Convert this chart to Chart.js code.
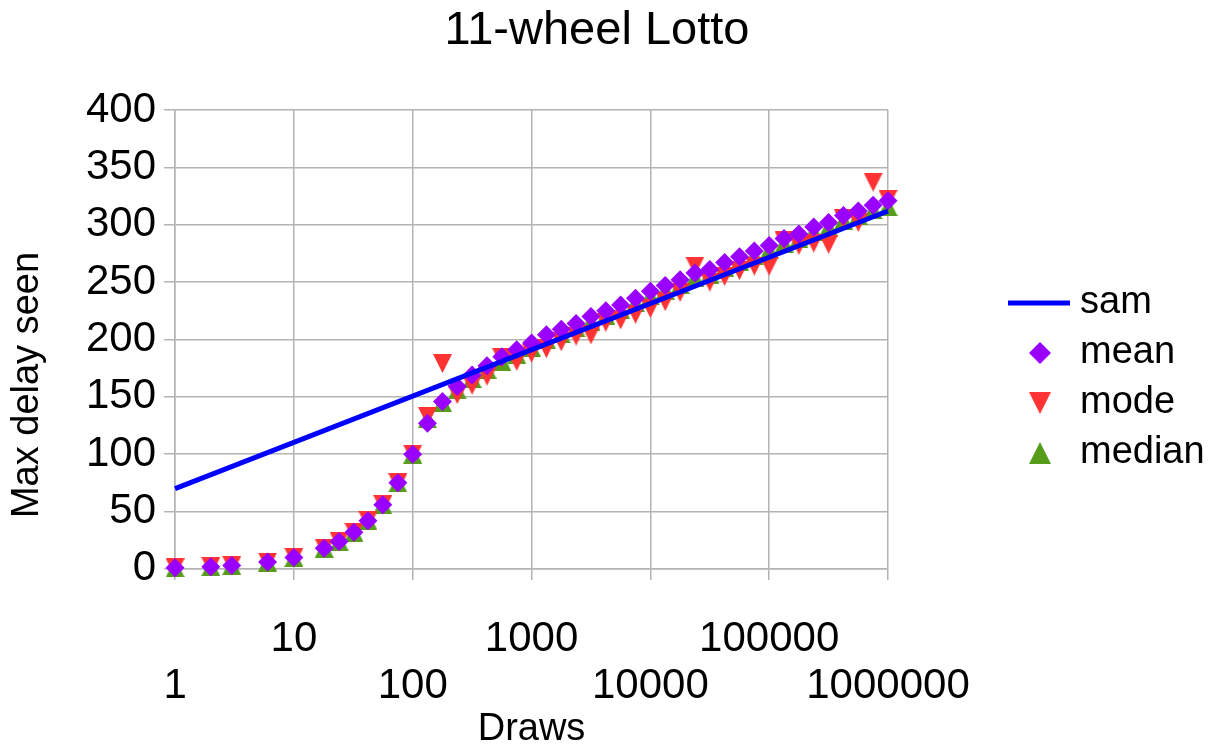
<!DOCTYPE html>
<html>
<head>
<meta charset="utf-8">
<script src="https://cdn.jsdelivr.net/npm/chart.js@4/dist/chart.umd.min.js"></script>
<style>
  html, body { margin: 0; padding: 0; background: #fff; }
  #wrap { width: 1217px; height: 747px; }
</style>
</head>
<body>
<div id="wrap"><canvas id="c"></canvas></div>
<script>
// values
const draws = [1, 2, 3, 6, 10, 18, 24, 32, 42, 56, 75, 100,
  133, 178, 237, 316, 422, 562, 750, 1000,
  1334, 1778, 2371, 3162, 4217, 5623, 7499, 10000,
  13335, 17783, 23714, 31623, 42170, 56234, 74989, 100000,
  133352, 177828, 237137, 316228, 421697, 562341, 749894, 1000000];
const meanVals = [1, 2, 3, 6, 10, 18, 24, 32, 42, 56, 75, 100,
  127, 146, 159, 169, 177, 185, 191, 197,
  204, 209, 214, 220, 225, 230, 236, 242,
  247, 252, 258, 261, 267, 272, 277, 282,
  288, 292, 298, 302, 308, 312, 317, 321];
const modeVals = [1, 2, 3, 6, 10, 18, 24, 32, 42, 56, 75, 100,
  133, 179, 152, 160, 168, 184, 181, 188,
  192, 198, 203, 204, 215, 217, 222, 227,
  233, 241, 264, 250, 255, 260, 264, 264,
  286, 282, 284, 283, 305, 302, 337, 322];
const medianVals = [1, 2, 3, 6, 10, 18, 24, 32, 42, 56, 75, 100,
  131, 145, 156, 166, 174, 181, 187, 193,
  200, 205, 210, 216, 221, 226, 232, 238,
  243, 248, 254, 257, 263, 268, 273, 278,
  284, 288, 294, 298, 304, 308, 313, 316];
const samDraws = [1, 1000000];
const samVals = [70, 312];
const xTickVals = [1, 10, 100, 1000, 10000, 100000, 1000000];

const FONT = '"Liberation Sans", Arial, sans-serif';
const C_SAM = '#0000ff', C_MEAN = '#9900ff', C_MODE = '#ff3333', C_MEDIAN = '#579d1c';
const GRID = '#b3b3b3';

const pts = (xs, ys) => xs.map((x, i) => ({ x, y: ys[i] }));

// triangle markers that fill their whole box, like the office chart does
function triangle(color, down, s) {
  const c = document.createElement('canvas');
  c.width = s; c.height = s;
  const g = c.getContext('2d');
  g.fillStyle = color;
  g.beginPath();
  if (down) { g.moveTo(0, 0); g.lineTo(s, 0); g.lineTo(s / 2, s); }
  else { g.moveTo(s / 2, 0); g.lineTo(s, s); g.lineTo(0, s); }
  g.closePath();
  g.fill();
  return c;
}
const triDown = triangle(C_MODE, true, 19), triUp = triangle(C_MEDIAN, false, 19);
const triDownL = triangle(C_MODE, true, 22), triUpL = triangle(C_MEDIAN, false, 22);

const legendItems = [
  { label: 'sam', line: true, color: C_SAM },
  { label: 'mean', style: 'rectRot', color: C_MEAN },
  { label: 'mode', img: triDownL },
  { label: 'median', img: triUpL },
];

// title, rotated y title and legend, drawn at the reference positions
const decor = {
  id: 'decor',
  afterDraw(chart) {
    const ctx = chart.ctx;
    ctx.save();
    ctx.fillStyle = '#000';
    ctx.textBaseline = 'middle';
    ctx.textAlign = 'center';
    ctx.font = '47px ' + FONT;
    ctx.fillText('11-wheel Lotto', 597, 31);

    ctx.save();
    ctx.translate(28, 385);
    ctx.rotate(-Math.PI / 2);
    ctx.font = '38px ' + FONT;
    ctx.fillText('Max delay seen', 0, 0);
    ctx.restore();

    ctx.font = '38px ' + FONT;
    ctx.textAlign = 'left';
    legendItems.forEach((it, i) => {
      const y = 303 + i * 50;
      if (it.line) {
        ctx.strokeStyle = it.color;
        ctx.lineWidth = 5;
        ctx.beginPath();
        ctx.moveTo(1008, y);
        ctx.lineTo(1070, y);
        ctx.stroke();
      } else if (it.img) {
        ctx.drawImage(it.img, 1040 - it.img.width / 2, y - it.img.height / 2);
      } else {
        ctx.fillStyle = it.color;
        ctx.strokeStyle = it.color;
        Chart.helpers.drawPoint(ctx, { pointStyle: it.style, rotation: 0, radius: 11, borderWidth: 0 }, 1040, y);
      }
      ctx.fillStyle = '#000';
      ctx.fillText(it.label, 1080, y);
    });
    ctx.restore();
  }
};

const markerSet = (label, vals, color, style, order) => ({
  label, data: pts(draws, vals), order, clip: false,
  pointStyle: style, pointRadius: 9.5,
  backgroundColor: color, borderColor: color, pointBorderWidth: 0,
});

new Chart(document.getElementById('c'), {
  type: 'scatter',
  data: {
    datasets: [
      { label: 'sam', data: pts(samDraws, samVals), showLine: true, pointRadius: 0,
        borderColor: C_SAM, borderWidth: 5, order: 0, clip: false },
      markerSet('mean', meanVals, C_MEAN, 'rectRot', 1),
      markerSet('mode', modeVals, C_MODE, triDown, 2),
      markerSet('median', medianVals, C_MEDIAN, triUp, 3),
    ]
  },
  options: {
    responsive: true, maintainAspectRatio: false, animation: false, events: [],
    layout: { padding: { top: 110, right: 329, left: 78, bottom: 0 } },
    plugins: { legend: { display: false }, title: { display: false }, tooltip: { enabled: false } },
    scales: {
      x: {
        type: 'logarithmic', min: 1, max: 1000000,
        afterBuildTicks: s => { s.ticks = xTickVals.map(v => ({ value: v })); },
        grid: { color: GRID, lineWidth: 1.5, tickLength: 11 },
        border: { color: GRID, width: 1.5 },
        ticks: {
          autoSkip: false, maxRotation: 0, minRotation: 0, padding: 36, color: '#000',
          font: { family: FONT, size: 42, lineHeight: 1.12 },
          callback: v => {
            const e = Math.round(Math.log10(v));
            return e % 2 === 1 ? [String(v), ''] : ['', String(v)];
          }
        },
        title: { display: true, text: 'Draws', color: '#000', padding: { top: -35, bottom: -2 },
          font: { family: FONT, size: 38, lineHeight: 1 } }
      },
      y: {
        min: 0, max: 400,
        grid: { color: GRID, lineWidth: 1.5, tickLength: 11 },
        border: { color: GRID, width: 1.5 },
        ticks: { stepSize: 50, autoSkip: false, padding: 8, color: '#000', font: { family: FONT, size: 42 } }
      }
    }
  },
  plugins: [decor]
});
</script>
</body>
</html>
